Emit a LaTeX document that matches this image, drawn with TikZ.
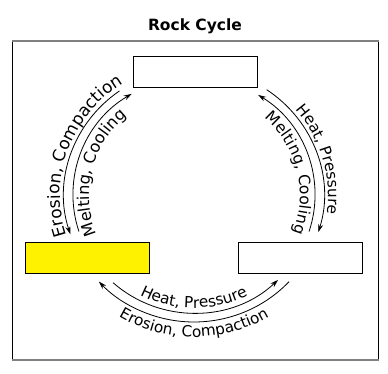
\documentclass[tikz,border=0pt]{standalone}
\usepackage{fontspec}
\setmainfont{DejaVu Sans}
\usetikzlibrary{decorations.text,arrows.meta}
\newcommand\lblfont[1]{\fontsize{#1}{17}\selectfont}
\begin{document}
\begin{tikzpicture}[x=1pt,y=1pt,
  box/.style={draw=black,line width=0.9pt,minimum width=124pt,minimum height=31pt,inner sep=0pt},
  cyc/.style={line width=0.8pt,-{Stealth[length=8pt,width=5pt]}},
  lbl/.style={decorate,decoration={text along path,text align=center,text={#1}}},
]
\useasboundingbox (0,0) rectangle (388,374);
% frame
\draw[black,line width=1pt] (12.5,14) -- (12.5,333);
\draw[black,line width=1pt] (378,14) -- (378,333);
\draw[gray,line width=1.6pt] (12,333) -- (378.5,333);
\draw[gray,line width=1.6pt] (12,14) -- (378.5,14);
% title
\node[font=\bfseries\fontsize{15.5}{18}\selectfont,anchor=base] (title) at (195,343) {Rock Cycle};
% boxes
\node[box] (top) at (195,302) {};
\node[box,fill=yellow] (left) at (87.5,116.5) {};
\node[box] (right) at (300.5,116.5) {};
% centre of the cycle
\coordinate (c) at (194,179);
% left arcs
\draw[cyc] ([shift={(125:130pt and 127pt)}]c) arc[start angle=125,end angle=198,x radius=130pt,y radius=127pt];
\draw[cyc] ([shift={(198:121pt and 118pt)}]c) arc[start angle=198,end angle=121,x radius=121pt,y radius=118pt];
% right arcs
\draw[cyc] ([shift={(56:130pt and 127pt)}]c) arc[start angle=56,end angle=-17,x radius=130pt,y radius=127pt];
\draw[cyc] ([shift={(-18:121pt and 118pt)}]c) arc[start angle=-18,end angle=58,x radius=121pt,y radius=118pt];
% bottom arcs
\draw[cyc] ([shift={(228:121pt and 118pt)}]c) arc[start angle=228,end angle=314,x radius=121pt,y radius=118pt];
\draw[cyc] ([shift={(317:130pt and 127pt)}]c) arc[start angle=317,end angle=223,x radius=130pt,y radius=127pt];
% labels
\path[lbl={|\lblfont{17}|Erosion, Compaction}] ([shift={(205:134pt and 131pt)}]c) arc[start angle=205,end angle=115,x radius=134pt,y radius=131pt];
\path[lbl={|\lblfont{16.2}|Melting, Cooling}] ([shift={(211:105pt and 102pt)}]c) arc[start angle=211,end angle=121,x radius=105pt,y radius=102pt];
\path[lbl={|\lblfont{15.3}|Heat, Pressure}] ([shift={(61:134pt and 131pt)}]c) arc[start angle=61,end angle=-29,x radius=134pt,y radius=131pt];
\path[lbl={|\lblfont{15.6}|Melting, Cooling}] ([shift={(58:106pt and 103pt)}]c) arc[start angle=58,end angle=-31,x radius=106pt,y radius=103pt];
\path[lbl={|\lblfont{15.3}|Heat, Pressure}] ([shift={(230:116pt and 113pt)}]c) arc[start angle=230,end angle=310,x radius=116pt,y radius=113pt];
\path[lbl={|\lblfont{15.3}|Erosion, Compaction}] ([shift={(230:145pt and 142pt)}]c) arc[start angle=230,end angle=310,x radius=145pt,y radius=142pt];
\end{tikzpicture}
\end{document}
